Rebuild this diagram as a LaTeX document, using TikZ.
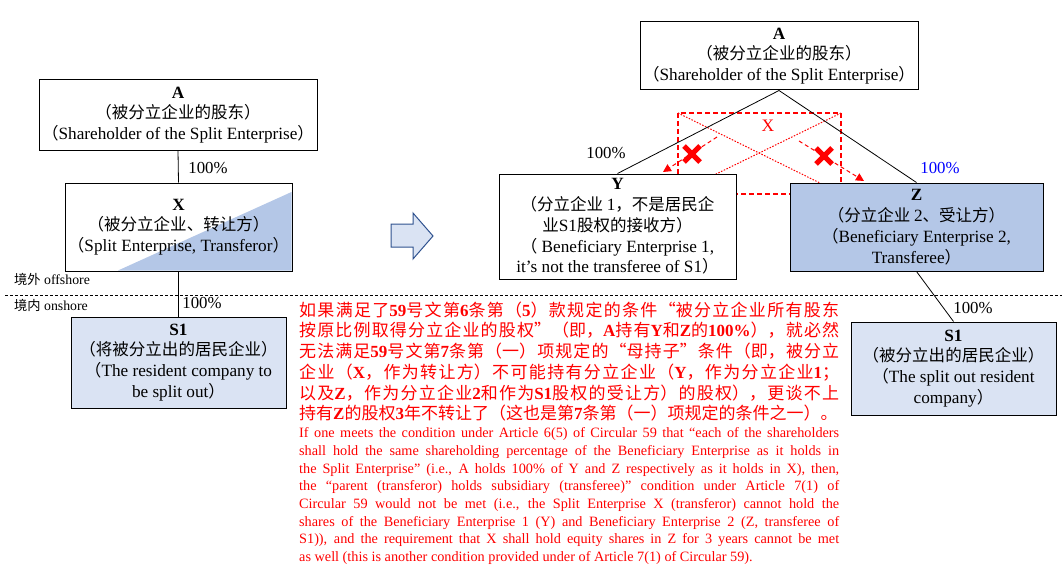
\documentclass[tikz,border=0pt]{standalone}
\usepackage{fontspec}
\setmainfont{Liberation Serif}
\newfontfamily\cjk{Noto Sans CJK SC}
\newfontfamily\cjkbox[Scale=0.96]{Noto Sans CJK SC}
\usetikzlibrary{arrows.meta}
\definecolor{zblue}{HTML}{B4C7E7}
\definecolor{lblue}{HTML}{DAE3F3}
\definecolor{arrowline}{HTML}{2F528F}
\newcommand\cj[1]{{\cjkbox #1}}
\newcommand\lat[1]{{\rmfamily\bfseries #1}}
\newcommand\bxfont{\fontsize{17.2}{20.8}\selectfont}
\newcommand\enline[1]{\leavevmode\hbox to 540pt{#1}}
\begin{document}
\begin{tikzpicture}[x=1pt,y=-1pt,
  box/.style={draw, line width=1pt, inner sep=0pt, align=center, font=\bxfont},
  conn/.style={line width=0.8pt, black},
  pct/.style={inner sep=0pt, font=\fontsize{16.8}{20}\selectfont},
  redrect/.style={red, line width=1.1pt, dash pattern=on 5pt off 3pt},
  reddot/.style={red, line width=1pt, dash pattern=on 1.5pt off 1.5pt},
  redarrow/.style={red, line width=1pt, dash pattern=on 4pt off 3pt, -{Triangle[width=8pt,length=8pt]}},
  redcross/.style={red, line width=5pt},
  zone/.style={anchor=west, inner sep=0pt, font=\fontsize{13.8}{16}\selectfont}
]
\useasboundingbox (0,0) rectangle (1062,575);

% ---------- left side ----------
\node[box, minimum width=278pt, minimum height=70pt] (lA) at (178,115)
  {\textbf{A}\\\cj{（被分立企业的股东）}\\\cj{（}Shareholder of the Split Enterprise\cj{）}};
\fill[zblue] (118,270.5) -- (291.5,270.5) -- (291.5,192) -- cycle;
\node[box, minimum width=227pt, minimum height=88pt] (lX) at (178.5,227)
  {\textbf{X}\\\cj{（被分立企业、转让方）}\\\cj{（}Split Enterprise, Transferor\cj{）}};
\node[box, fill=lblue, minimum width=215pt, minimum height=91pt] (lS) at (178.5,362.5)
  {\textbf{S1}\\\cj{（将被分立出的居民企业）}\\\cj{（}The resident company to\\be split out\cj{）}};
\draw[conn] (lA.south) -- (lX.north);
\draw[conn] (lX.south) -- (lS.north);
\node[pct] (p1) at (208,168) {100\%};
\node[pct] (p2) at (202,303) {100\%};

% divider
\draw[line width=0.8pt, dash pattern=on 3pt off 2pt] (5,295) -- (1062,295);
\node[zone] (off) at (14,279) {\cj{境外} offshore};
\node[zone] (on) at (14,305) {\cj{境内} onshore};

% block arrow
\draw[arrowline, fill=lblue, line width=1pt, line join=miter]
  (391,224) -- (413,224) -- (413,213) -- (433,236) -- (413,259) -- (413,247) -- (391,247) -- cycle;

% ---------- right side ----------
\coordinate (r1) at (678,113);
\coordinate (r2) at (841,113);
\coordinate (r3) at (841,194);
\coordinate (d1) at (826,186);
\coordinate (d2) at (708,178);
\coordinate (a1s) at (717,137);
\coordinate (a1e) at (663,172);
\coordinate (a2s) at (799,141);
\coordinate (a2e) at (864,181);
\draw[redrect] (r1) rectangle (r3);
\draw[reddot] (r1) -- (d1);
\draw[reddot] (r2) -- (d2);
\draw[redarrow] (a1s) -- (a1e);
\draw[redarrow] (a2s) -- (a2e);
\draw[redcross] (684,146) -- (700,162) (684,162) -- (700,146);
\draw[redcross] (816,148) -- (832,164) (816,164) -- (832,148);
\node[text=red, inner sep=0pt, font=\fontsize{17.5}{20}\selectfont] (xl) at (768,126) {X};

\node[box, fill=white, minimum width=278pt, minimum height=68pt] (rA) at (779,56)
  {\textbf{A}\\\cj{（被分立企业的股东）}\\\cj{（}Shareholder of the Split Enterprise\cj{）}};
\node[box, fill=white, minimum width=237pt, minimum height=105pt] (Y) at (617.5,226.5)
  {\textbf{Y}\\\cj{（分立企业 }1\cj{，不是居民企}\\\cj{业}S1\cj{股权的接收方）}\\\cj{（} Beneficiary Enterprise 1,\\it’s not the transferee of S1\cj{）}};
\node[box, fill=zblue, minimum width=253pt, minimum height=88pt] (Z) at (916.5,227)
  {\textbf{Z}\\\cj{（分立企业 }2\cj{、受让方）}\\\cj{（}Beneficiary Enterprise 2,\\Transferee\cj{）}};
\node[box, fill=lblue, minimum width=205pt, minimum height=93pt] (rS) at (953.5,368.5)
  {\textbf{S1}\\\cj{（被分立出的居民企业）}\\\cj{（}The split out resident\\company\cj{）}};
\draw[conn] (rA.south) -- (Y.north);
\draw[conn] (rA.south) -- (Z.north);
\draw[conn] (Z.south) -- (rS.north);
\node[pct] (p3) at (606,153) {100\%};
\node[pct, text=blue] (p4) at (940,168) {100\%};
\node[pct] (p5) at (973,308) {100\%};

% ---------- red text ----------
\node[anchor=north west, inner sep=0pt, text width=540pt, align=justify, text=red,
      font=\cjk\fontsize{17}{20.7}\selectfont] (cn) at (299,301.5)
{\XeTeXlinebreaklocale "zh"\XeTeXlinebreakskip=0pt plus 6pt minus 0.2pt\relax
如果满足了\lat{59}号文第\lat{6}条第（\lat{5}）款规定的条件“被分立企业所有股东\linebreak
按原比例取得分立企业的股权”（即，\lat{A}持有\lat{Y}和\lat{Z}的\lat{100\%}），就必然\linebreak
无法满足\lat{59}号文第\lat{7}条第（一）项规定的“母持子”条件（即，被分立\linebreak
企业（\lat{X}，作为转让方）不可能持有分立企业（\lat{Y}，作为分立企业\lat{1}；\linebreak
以及\lat{Z}，作为分立企业\lat{2}和作为\lat{S1}股权的受让方）的股权），更谈不上\linebreak
\mbox{持有\lat{Z}的股权\lat{3}年不转让了（这也是第\lat{7}条第（一）项规定的条件之一）。}};

\node[anchor=north west, inner sep=0pt, text width=540pt, align=left, text=red,
      font=\fontsize{14.25}{17.7}\selectfont] (en) at (299,427.5)
{\spaceskip=3.56pt plus 8pt minus 1pt\relax
\enline{If one meets the condition under Article 6(5) of Circular 59 that “each of the shareholders}\\
\enline{shall hold the same shareholding percentage of the Beneficiary Enterprise as it holds in}\\
\enline{the Split Enterprise” (i.e., A holds 100\% of Y and Z respectively as it holds in X), then,}\\
\enline{the “parent (transferor) holds subsidiary (transferee)” condition under Article 7(1) of}\\
\enline{Circular 59 would not be met (i.e., the Split Enterprise X (transferor) cannot hold the}\\
\enline{shares of the Beneficiary Enterprise 1 (Y) and Beneficiary Enterprise 2 (Z, transferee of}\\
\enline{S1)), and the requirement that X shall hold equity shares in Z for 3 years cannot be met}\\
\spaceskip=0pt\relax as well (this is another condition provided under of Article 7(1) of Circular 59).};
\end{tikzpicture}
\end{document}
